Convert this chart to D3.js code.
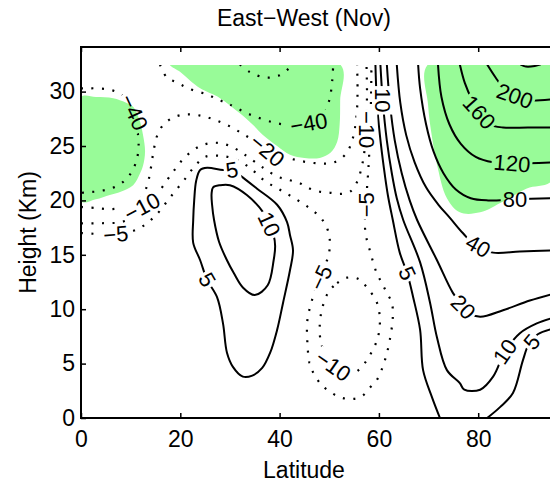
<!DOCTYPE html>
<html>
<head>
<meta charset="utf-8">
<script src="https://cdn.jsdelivr.net/npm/d3@7"></script>
<style>
  body { margin: 0; background: #ffffff; }
  #chart text { font-family: "Liberation Sans", Arial, Helvetica, sans-serif; }
</style>
</head>
<body>
<svg id="chart" width="550" height="484"></svg>
<script>
// axis ticks
const latTicks = [0, 20, 40, 60, 80]
const heightTicks = [0, 5, 10, 15, 20, 25, 30]

// contour lines, [latitude, height km]
const m40West = [[0,30.3],[1.2,30.3],[3.2,30.3],[5.4,30.2],[7.5,29.9],[9.3,29.1],[10.6,27.8],[11.4,26.3],[11.6,25.0],[11.3,23.9],[10.2,22.6],[8.2,21.6],[6.0,21.1],[3.6,20.85],[1.6,20.75],[0,20.7]]
const m40Mid = [[15.9,32.5],[17.3,31.3],[19.5,30.8],[21.6,30.3],[25.6,29.7],[28,29.2],[30,28.8],[34,27.9],[38.5,27.2],[42.1,26.9],[45.5,26.9],[48.3,27.4],[49.5,28.5],[50.2,29.6],[50.6,31],[50.8,32.5]]
const m60 = [[32,32.5],[34,31.8],[37,31.3],[40,31.5],[42.7,32.5]]
const m20 = [[0,19.4],[3,19.3],[6,19.2],[9,19.4],[11.5,19.9],[13.2,21.2],[14,22.8],[14.6,24.5],[15.3,25.9],[16.5,26.9],[18.5,27.6],[21,27.9],[24,27.8],[27,27.4],[30,26.8],[33,26],[35.5,25.3],[38,24.5],[41,24],[44.5,23.6],[48,23.4],[51,23.5],[53.4,24.3],[54.8,25.8],[55.5,27.8],[55.7,30],[55.6,32.5]]
const m10Upper = [[0,17.9],[4,17.9],[8,18],[11,18.6],[13.5,19.6],[16,21],[18.5,22.6],[21,24],[24,25],[27,25.3],[30,25],[33,24.2],[36.7,23],[39.5,22.2],[41.7,21.9],[44,21.6],[46,21.1],[48.1,20.8],[50.2,20.7],[52.2,20.6],[54.2,20.8],[55.6,21.7],[56.6,23.2],[57.2,25],[57.5,27.5],[57.6,30],[57.5,32.5]]
const m10Lower = [[50.2,11.8],[51.6,12.4],[53.6,12.9],[55.8,12.8],[57.6,12],[59.6,10.6],[60.2,9],[59.8,7.4],[58.8,6.3],[57.4,5.2],[55.6,4.3],[53.6,3.9],[51.6,4.4],[49.6,5.5],[48.3,7],[48.1,8.7],[48.5,9.9],[49.3,11.1]]
const m5 = [[0,17],[5,16.9],[9,17],[12,17.5],[15,18.6],[18,20.3],[21,22],[23,23.2],[25,24],[28,24.1],[31,23.8],[34,23],[37,21.8],[40,21],[43,20.2],[46,19.3],[48.3,18.4],[49.6,17.4],[50.1,16.4],[49.9,15],[49,13.9],[47.8,12.6],[46.5,10.8],[45.6,9],[45.6,6.9],[46.1,4.9],[47.1,3.9],[48.5,3],[50.2,2.4],[52.2,1.9],[54.6,1.75],[56.6,2],[58.2,2.8],[59.6,3.5],[61.2,5.3],[62.2,7.2],[62.8,9.3],[62.6,10.6],[61.6,11.5],[60.6,12.4],[59.5,13.4],[58.3,15.2],[57.3,17],[57.2,18.5],[57.5,20.5],[57.9,23],[58.2,26],[58.4,29],[58.5,32.5]]
const p5Loop = [[24,22.8],[25.4,23],[28.6,22.8],[30.4,22.8],[32,22.3],[35.4,21.1],[39.5,19.6],[41.5,18],[42.1,16.8],[42.7,15.4],[42.1,13.6],[40.7,10.6],[39.5,8.1],[38.1,6],[36.5,4.6],[34.5,3.9],[32.6,3.8],[30.6,4.7],[29.4,6],[28.6,8.7],[27.4,11.1],[25.4,12.7],[24,14.5],[22.6,16.1],[22.6,18.2],[22.8,20],[23.2,21.8]]
const p10Loop = [[26.6,21.2],[28,21.4],[30,21.4],[33.4,20.5],[36.7,18.9],[37.9,17.8],[38.8,16.8],[39.1,15.8],[38.8,14.5],[37.6,12.2],[35,11.3],[32.6,12],[30.8,13.3],[29.4,14.5],[27.8,16.2],[26.8,18.2],[26.4,19.6],[26.3,20.6]]
const p5East = [[59.3,32.5],[59.6,29],[60.2,26],[61,23],[61.8,20.5],[62.8,18.2],[64.2,15.2],[65.7,13.3],[66.9,11.1],[68.3,8.1],[68.9,4.4],[70.7,1.9],[72.3,0]]
const p5Pole = [[81.8,0],[84.4,1],[87,2.3],[89,5.3],[90.2,6.8],[92,7.7],[95,8.2]]
const p10East = [[60.3,32.5],[60.8,29],[61.6,25.5],[62.6,22.5],[63.6,20.2],[64.9,18.2],[68.3,14.3],[70.3,10.6],[71.7,7.4],[73.7,4.4],[76.3,3.2],[77.2,2.6],[80.4,2.6],[83,3.8],[85.4,6.1],[88.4,7.8],[91.8,8.7],[95,9.2]]
const p20 = [[61.6,32.5],[62.2,29],[63.2,25.5],[64.6,22.5],[66.2,20],[67.7,18.2],[71.7,14.5],[74.9,11.5],[76.7,10.4],[78.5,9.6],[80.4,9.3],[85,9.9],[90.4,10.8],[95,11.4]]
const p40 = [[63.6,32.5],[64.3,29],[65.5,26],[67.2,23.5],[69.5,21.2],[72,19.6],[74.3,18.4],[76.9,17],[79.8,15.7],[83,15.2],[88.4,15.3],[95,15.4]]
const p80 = [[67.9,32.5],[68.3,30.3],[69.5,27],[71,24.5],[73,22.5],[75.5,21],[78.5,20.2],[82,20],[87.4,20.1],[95,20.2]]
const p120 = [[71.9,32.5],[72.6,29.5],[74.2,27],[76.5,25.2],[79.5,24],[83,23.5],[86.8,23.4],[95,23.5]]
const p160 = [[76.3,32.5],[77.3,30.8],[78.8,29.2],[80.4,27.9],[82.2,27],[85,26.7],[90,26.7],[95,26.7]]
const p200 = [[81.8,32.5],[83.5,31.3],[85.5,30.1],[87.4,29.5],[90,29.2],[95,29.3]]
const p240 = [[88.5,32.5],[89.6,32.3],[91.4,32.35],[92.6,32.5]]

// shaded (green) regions
const greenWest = [[0,29.5],[3,29.5],[6.5,29.4],[9,29.0],[10.5,28.6],[11.7,27.5],[12.5,26],[12.9,24.5],[12.5,23.2],[11.9,22.5],[10.5,21.4],[8,20.8],[5.8,20.5],[3,20.1],[0,19.9]]
const greenMid = [[17.9,32.5],[20,31.8],[22,31],[24,30.3],[28,29.4],[32,28],[34.5,27],[36.7,26],[39.5,25],[42.1,24.2],[45,23.9],[48.1,23.9],[50.3,24.4],[51.6,25.4],[52.1,27],[52.2,29.2],[52.2,32.5]]
const greenEast = [[69.9,32.5],[69.9,28.8],[70.7,25.8],[71.7,23.3],[73.7,20.2],[76.3,18.9],[80.4,18.9],[85,19.9],[89.8,21.1],[95,21.9],[95,32.5]]

// contour labels: text, lat, height, angle
const contourLabels = [
  ['\u221240', 10.7, 28.1, 65], ['\u221240', 45.9, 27.1, -10], ['\u221220', 37.5, 24.6, 40],
  ['\u221210', 12.3, 19.4, -28], ['\u22125', 7, 16.9, -5], ['\u221210', 57.6, 26.5, 90],
  ['\u22125', 57.4, 19.6, -90], ['\u22125', 48.3, 12.9, -65], ['\u221210', 50.8, 4.8, 35],
  ['5', 30.4, 22.8, -10], ['5', 25.4, 12.7, 60], ['10', 37.9, 17.8, 65],
  ['5', 65.7, 13.3, 65], ['10', 60.8, 29.2, 90], ['20', 77, 10.2, 45],
  ['10', 85.4, 6.1, -55], ['5', 90.8, 7.0, -50], ['40', 80, 15.8, 30],
  ['80', 87.4, 20.1, 0], ['120', 86.8, 23.4, 5], ['160', 80.2, 28.1, 48], ['200', 87.4, 29.6, 20]
]

const contours = [
  { level: -60, pts: m60 }, { level: -40, pts: m40West }, { level: -40, pts: m40Mid },
  { level: -20, pts: m20 }, { level: -10, pts: m10Upper }, { level: -10, pts: m10Lower, closed: true },
  { level: -5, pts: m5 }, { level: 5, pts: p5Loop, closed: true }, { level: 10, pts: p10Loop, closed: true },
  { level: 5, pts: p5East }, { level: 5, pts: p5Pole }, { level: 10, pts: p10East },
  { level: 20, pts: p20 }, { level: 40, pts: p40 }, { level: 80, pts: p80 },
  { level: 120, pts: p120 }, { level: 160, pts: p160 }, { level: 200, pts: p200 }, { level: 240, pts: p240 }
]

const svg = d3.select('#chart')
const fontSize = 23
const x = d3.scaleLinear().domain([0, 95]).range([81, 81 + 95 * 4.965])
const y = d3.scaleLinear().domain([0, 34.1]).range([418, 47])
const dataTop = 32.45

const defs = svg.append('defs')
defs.append('clipPath').attr('id', 'data-area').append('rect')
  .attr('x', x(0)).attr('y', y(dataTop))
  .attr('width', x(95) - x(0)).attr('height', y(0) - y(dataTop))
const gapMask = defs.append('mask').attr('id', 'label-gaps')
  .attr('maskUnits', 'userSpaceOnUse')
  .attr('x', 0).attr('y', 0).attr('width', 550).attr('height', 484)
gapMask.append('rect').attr('width', 550).attr('height', 484).attr('fill', 'white')

const plot = svg.append('g').attr('clip-path', 'url(#data-area)')

// green areas
const areaPath = d3.line().x(d => x(d[0])).y(d => y(d[1])).curve(d3.curveCatmullRomClosed.alpha(0.5))
plot.append('g').selectAll('path')
  .data([greenWest, greenMid, greenEast])
  .join('path')
  .attr('d', areaPath)
  .attr('fill', '#98fb98')

// contour lines
const openPath = d3.line().x(d => x(d[0])).y(d => y(d[1])).curve(d3.curveCatmullRom.alpha(0.5))
const linesLayer = plot.append('g').attr('mask', 'url(#label-gaps)')
linesLayer.selectAll('path')
  .data(contours)
  .join('path')
  .attr('d', d => d.closed ? areaPath(d.pts) : openPath(d.pts))
  .attr('fill', 'none')
  .attr('stroke', '#000')
  .attr('stroke-width', d => d.level < 0 ? 2.2 : 2)
  .attr('stroke-dasharray', d => d.level < 0 ? '2 8.5' : null)

// labels, with a gap cut in the lines behind them
const labels = plot.append('g').selectAll('g')
  .data(contourLabels)
  .join('g')
  .attr('transform', d => `translate(${x(d[1])},${y(d[2])}) rotate(${d[3]})`)
labels.append('text')
  .attr('text-anchor', 'middle')
  .attr('dy', '0.35em')
  .attr('font-size', fontSize - 1)
  .attr('fill', '#000')
  .text(d => d[0])
labels.each(function () {
  const box = d3.select(this).select('text').node().getBBox()
  gapMask.append('rect')
    .attr('transform', d3.select(this).attr('transform'))
    .attr('x', box.x - 2).attr('y', box.y + 2)
    .attr('width', box.width + 4).attr('height', box.height - 4)
    .attr('fill', 'black')
})

// axes, ticks pointing inwards
const bottomAxis = svg.append('g')
  .attr('transform', `translate(0,${y(0)})`)
  .call(d3.axisBottom(x).tickValues(latTicks).tickSizeInner(-5).tickSizeOuter(0).tickPadding(13))
const topAxis = svg.append('g')
  .attr('transform', `translate(0,${y(34.1)})`)
  .call(d3.axisTop(x).tickValues(latTicks).tickSizeInner(-5).tickSizeOuter(0).tickFormat(''))
const leftAxis = svg.append('g')
  .attr('transform', `translate(${x(0)},0)`)
  .call(d3.axisLeft(y).tickValues(heightTicks).tickSizeInner(-5).tickSizeOuter(0).tickPadding(6))

;[bottomAxis, topAxis, leftAxis].forEach(g => {
  g.select('.domain').remove()
  g.selectAll('line').attr('stroke', '#000').attr('stroke-width', 1.5)
  g.selectAll('text').attr('font-size', fontSize).attr('fill', '#000')
    .attr('font-family', '"Liberation Sans", Arial, Helvetica, sans-serif')
})

// frame
svg.append('path')
  .attr('d', `M${x(95) + 5},${y(34.1)}H${x(0)}V${y(0)}H${x(95) + 5}`)
  .attr('fill', 'none')
  .attr('stroke', '#000')
  .attr('stroke-width', 2)

// titles
svg.append('text')
  .attr('x', 304).attr('y', 26)
  .attr('text-anchor', 'middle')
  .attr('font-size', fontSize)
  .text('East\u2212West (Nov)')
svg.append('text')
  .attr('x', 304).attr('y', 478)
  .attr('text-anchor', 'middle')
  .attr('font-size', fontSize)
  .text('Latitude')
svg.append('text')
  .attr('transform', `translate(36,${(y(0) + y(34.1)) / 2}) rotate(-90)`)
  .attr('text-anchor', 'middle')
  .attr('font-size', fontSize)
  .text('Height (Km)')
</script>
</body>
</html>
